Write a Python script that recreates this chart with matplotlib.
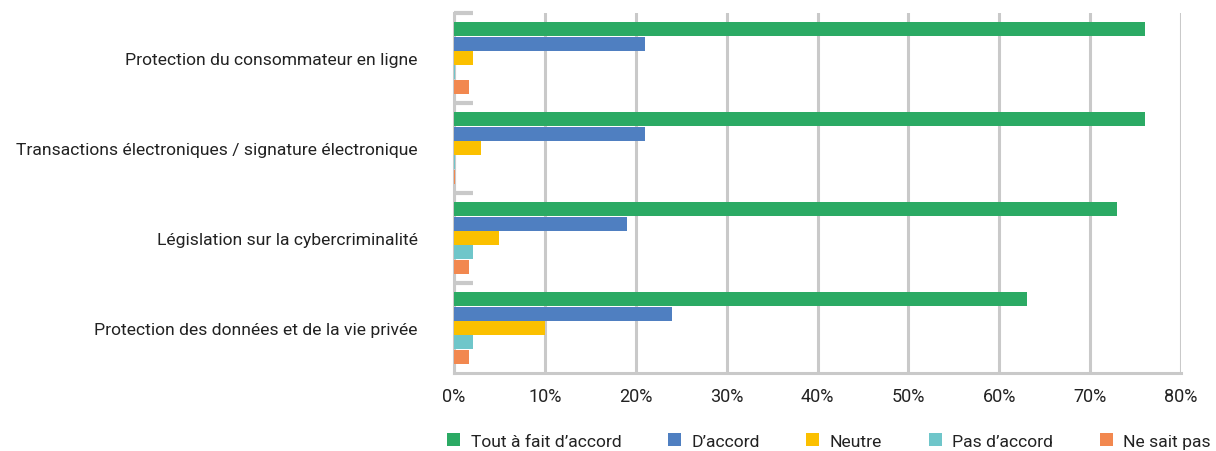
"""Horizontal grouped bar chart of agreement levels by legislation area."""

import matplotlib.pyplot as plt
import numpy as np
from matplotlib.patches import Patch

plt.rcParams['font.family'] = ['Roboto', 'DejaVu Sans']

categories = [
    "Protection du consommateur en ligne",
    "Transactions électroniques / signature électronique",
    "Législation sur la cybercriminalité",
    "Protection des données et de la vie privée",
]
series = ["Tout à fait d\u2019accord", "D\u2019accord", "Neutre", "Pas d\u2019accord", "Ne sait pas"]
tout_a_fait = [76, 76, 73, 63]
d_accord = [21, 21, 19, 24]
neutre = [2.1, 3, 5, 10]
pas_d_accord = [0.1, 0.1, 2.1, 2.1]
ne_sait_pas = [1.7, 0.1, 1.7, 1.7]
values = [tout_a_fait, d_accord, neutre, pas_d_accord, ne_sait_pas]
colors = ["#2BAA64", "#4F7FC1", "#FBC000", "#6FC6CA", "#F2884F"]

grid_col = "#C9C9C9"
txt_col = "#222222"

fig = plt.figure(figsize=(12.16, 4.52), dpi=100)
ax = fig.add_axes([454 / 1216, 1 - 374 / 452, (1181 - 454) / 1216, 360 / 452])

n_cat = len(categories)
n_ser = len(series)
bar_h = 0.8 / n_ser
# category i occupies band [i, i+1] counted from the top
for j, (vals, col) in enumerate(zip(values, colors)):
    y = np.arange(n_cat) + 0.1 + bar_h * (j + 0.5)
    ax.barh(y, vals, height=bar_h * 0.97, color=col, zorder=3)

ax.set_ylim(n_cat, 0)
ax.set_xlim(0, 80)
ax.set_xticks(np.arange(0, 81, 10))
ax.set_xticklabels([f"{v}%" for v in range(0, 81, 10)], fontsize=13, color=txt_col)
ax.set_yticks(np.arange(n_cat) + 0.5)
ax.set_yticklabels(categories, fontsize=12.6, color=txt_col)
ax.set_yticks(np.arange(n_cat), minor=True)
ax.tick_params(axis='y', which='major', length=0, pad=26)
ax.tick_params(axis='y', which='minor', direction='in', length=14, width=3, color=grid_col)
ax.tick_params(axis='x', length=0, pad=10)

ax.grid(axis='x', color=grid_col, linewidth=2.2, zorder=0)
for side in ['top', 'right']:
    ax.spines[side].set_visible(False)
for side in ['left', 'bottom']:
    ax.spines[side].set_color(grid_col)
    ax.spines[side].set_linewidth(2.2)

handles = [Patch(facecolor=c) for c in colors]
fig.legend(handles, series, loc='center', bbox_to_anchor=(829 / 1216, 1 - 442 / 452),
           ncol=5, frameon=False, fontsize=12.6, handlelength=0.75, handleheight=0.75,
           handletextpad=0.6, columnspacing=2.65, labelcolor=txt_col)

fig.savefig("out.png", dpi=100)
